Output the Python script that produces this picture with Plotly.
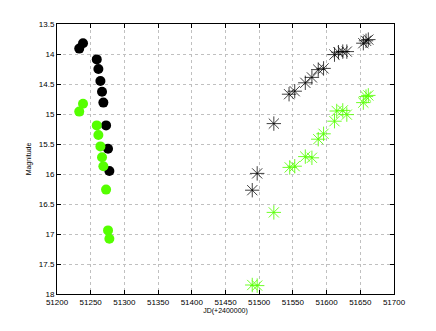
import plotly.graph_objects as go

# Early phase (circles)
jd_early = [51238.6, 51233.0, 51259.0, 51261.4, 51264.4, 51266.8, 51268.8, 51272.8, 51275.7, 51277.7]
mag_early_black = [13.82, 13.91, 14.09, 14.25, 14.45, 14.63, 14.81, 15.19, 15.58, 15.95]
mag_early_green = [14.83, 14.96, 15.19, 15.35, 15.54, 15.72, 15.87, 16.26, 16.94, 17.08]

# Late phase (stars)
jd_late_black = [51489.7, 51497.0, 51521.7, 51544.3, 51552.7, 51568.4, 51578.2, 51587.6, 51595.5,
                 51611.7, 51617.6, 51624.0, 51630.0, 51654.5, 51658.5, 51661.9]
mag_late_black = [16.27, 15.99, 15.16, 14.67, 14.62, 14.48, 14.39, 14.26, 14.24,
                  14.01, 13.97, 13.96, 13.96, 13.82, 13.78, 13.76]
jd_late_green = [51489.7, 51497.0, 51521.7, 51545.3, 51552.7, 51568.4, 51578.2, 51587.6, 51595.5,
                 51611.7, 51615.0, 51624.0, 51630.0, 51654.5, 51658.5, 51661.9]
mag_late_green = [17.85, 17.86, 16.64, 15.89, 15.87, 15.71, 15.73, 15.42, 15.33,
                  15.12, 14.95, 14.94, 15.01, 14.81, 14.71, 14.69]

x_ticks = [51200, 51250, 51300, 51350, 51400, 51450, 51500, 51550, 51600, 51650, 51700]
y_ticks = [13.5, 14, 14.5, 15, 15.5, 16, 16.5, 17, 17.5, 18]

GREEN = "#55ff00"

fig = go.Figure()
fig.add_trace(go.Scatter(x=jd_early, y=mag_early_black, mode="markers",
                         marker=dict(symbol="circle", size=10, color="black")))
fig.add_trace(go.Scatter(x=jd_early, y=mag_early_green, mode="markers",
                         marker=dict(symbol="circle", size=10, color=GREEN)))
fig.add_trace(go.Scatter(x=jd_late_black, y=mag_late_black, mode="markers",
                         marker=dict(symbol="asterisk-open", size=12, color="rgba(0,0,0,0.75)",
                                     line=dict(color="rgba(0,0,0,0.75)", width=1))))
fig.add_trace(go.Scatter(x=jd_late_green, y=mag_late_green, mode="markers",
                         marker=dict(symbol="asterisk-open", size=12, color="rgba(85,255,0,0.85)",
                                     line=dict(color="rgba(85,255,0,0.85)", width=1))))

axis_common = dict(
    showline=True, linecolor="black", linewidth=1, mirror="allticks",
    ticks="inside", ticklen=4, tickcolor="black",
    showgrid=True, gridcolor="#c0c0c0", griddash="dot", gridwidth=1,
    zeroline=False, tickfont=dict(family="Liberation Sans, Arial", size=8, color="black"),
)

# page body has an 8px default margin, so the figure is shrunk and shifted accordingly
fig.update_layout(
    width=428, height=323,
    margin=dict(l=49, r=42, t=16, b=37),
    paper_bgcolor="white", plot_bgcolor="white",
    showlegend=False,
    xaxis=dict(range=[51200, 51700], tickvals=x_ticks, ticktext=[str(v) for v in x_ticks],
               title=dict(text="JD(+2400000)", font=dict(family="Liberation Sans, Arial", size=7, color="black"),
                          standoff=2),
               **axis_common),
    yaxis=dict(range=[18, 13.5], tickvals=y_ticks, ticktext=[f"{v:g}" for v in y_ticks],
               title=dict(text="Magnitude", font=dict(family="Liberation Sans, Arial", size=7, color="black"),
                          standoff=6),
               **axis_common),
)

fig.write_html("out.html")
